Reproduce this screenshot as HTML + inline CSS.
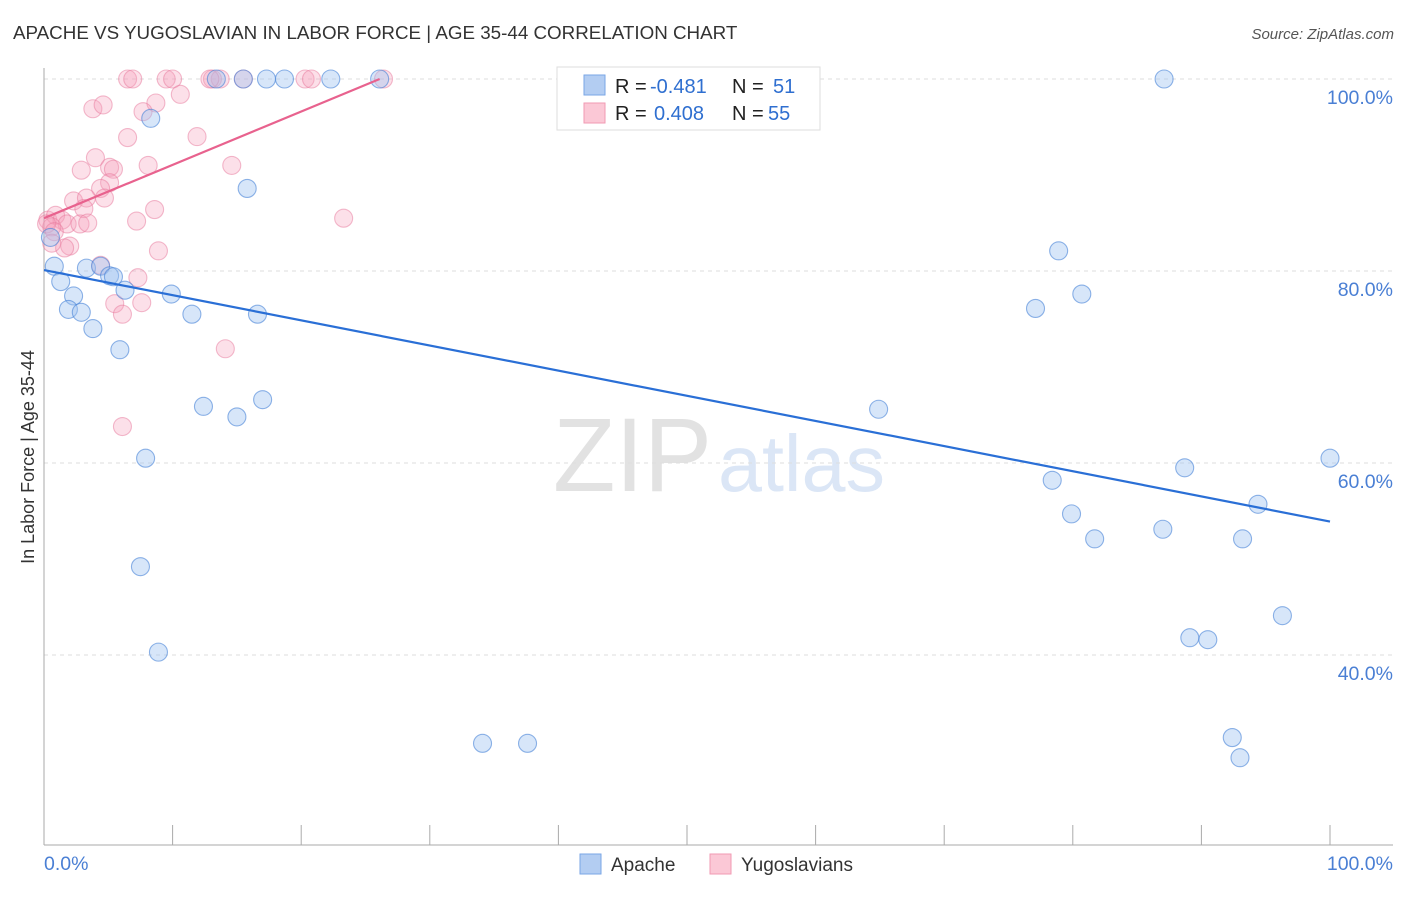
<!DOCTYPE html>
<html><head><meta charset="utf-8"><style>
body{margin:0;background:#fff;font-family:"Liberation Sans",sans-serif;}
svg text{font-family:"Liberation Sans",sans-serif;}
</style></head><body>
<svg id="chart" width="1406" height="892" xmlns="http://www.w3.org/2000/svg">
<text x="13" y="39" font-size="18.8" fill="#333">APACHE VS YUGOSLAVIAN IN LABOR FORCE | AGE 35-44 CORRELATION CHART</text>
<text x="1394" y="39" font-size="15" fill="#555" text-anchor="end" font-style="italic">Source: ZipAtlas.com</text>
<text transform="translate(34,457) rotate(-90)" font-size="18" fill="#333" text-anchor="middle">In Labor Force | Age 35-44</text>
<g>
<text x="553" y="491" font-size="105" fill="#e2e2e2" font-family="Liberation Serif" textLength="159" lengthAdjust="spacingAndGlyphs">ZIP</text>
<text x="718" y="491" font-size="80" fill="#dbe6f6" textLength="167" lengthAdjust="spacingAndGlyphs">atlas</text>
</g>
<g id="grid"></g>
<g id="axes"></g>
<g id="pts"></g>
<g id="lines"></g>
<g>
<rect x="557" y="67" width="263" height="63" fill="#fff" stroke="#ddd"/>
<rect x="584" y="75" width="21" height="20" fill="#b3cdf2" stroke="#7aa6e6"/>
<text x="615" y="93" font-size="20" fill="#222">R = </text><text x="650" y="93" font-size="20" fill="#2f6fd0">-0.481</text>
<text x="732" y="93" font-size="20" fill="#222">N = </text><text x="773" y="93" font-size="20" fill="#2f6fd0">51</text>
<rect x="584" y="103" width="21" height="20" fill="#fbc8d6" stroke="#f09ab3"/>
<text x="615" y="120" font-size="20" fill="#222">R = </text><text x="654" y="120" font-size="20" fill="#2f6fd0">0.408</text>
<text x="732" y="120" font-size="20" fill="#222">N = </text><text x="768" y="120" font-size="20" fill="#2f6fd0">55</text>
</g>
<g>
<rect x="580" y="854" width="21" height="20" fill="#b3cdf2" stroke="#7aa6e6"/>
<text x="611" y="871" font-size="19" fill="#333">Apache</text>
<rect x="710" y="854" width="21" height="20" fill="#fbc8d6" stroke="#f09ab3"/>
<text x="741" y="871" font-size="19" fill="#333">Yugoslavians</text>
</g>
</svg>
<script>
const yTicks=[100,80,60,40];
const yTickLabels=["100.0%","80.0%","60.0%","40.0%"];
const xTickLabels=["0.0%","100.0%"];
const apacheX=[43.2,87.1,13.4,15.5,17.3,18.7,22.3,26.1,8.3,15.8,78.9,0.8,1.3,3.3,4.4,5.1,5.4,6.3,2.3,1.9,2.9,9.9,11.5,16.6,3.8,5.9,77.1,80.7,64.9,12.4,15.0,17.0,7.9,100,88.7,78.4,94.4,79.9,81.7,87.0,93.2,7.5,8.9,96.3,89.1,90.5,34.1,37.6,92.4,93.0,0.5];
const apacheY=[99.9,100,100,100,100,100,100,100,95.9,88.6,82.1,80.5,78.9,80.3,80.5,79.5,79.4,78.0,77.4,76.0,75.7,77.6,75.5,75.5,74.0,71.8,76.1,77.6,65.6,65.9,64.8,66.6,60.5,60.5,59.5,58.2,55.7,54.7,52.1,53.1,52.1,49.2,40.3,44.1,41.8,41.6,30.8,30.8,31.4,29.3,83.5];
const yugoX=[6.5,6.9,9.5,10.0,13.1,13.7,12.9,15.5,20.3,20.8,26.4,10.6,3.8,4.6,8.7,7.7,6.5,11.9,4.0,8.1,14.6,2.9,5.1,5.4,5.1,4.4,4.7,2.3,3.3,3.1,8.6,0.3,0.9,1.4,1.8,2.8,3.4,7.2,23.3,2.0,1.6,0.6,0.2,0.8,4.4,8.9,7.3,5.5,7.6,6.1,14.1,6.1,0.6];
const yugoY=[100,100,100,100,100,100,100,100,100,100,100,98.4,96.9,97.3,97.5,96.6,93.9,94.0,91.8,91.0,91.0,90.5,90.8,90.6,89.2,88.6,87.6,87.3,87.6,86.5,86.4,85.3,85.8,85.3,84.9,84.9,85.0,85.2,85.5,82.6,82.4,84.6,84.9,84.1,80.6,82.1,79.3,76.6,76.7,75.5,71.9,63.8,82.9];
const apacheFit=[80.1,53.9];
const yugoFit=[85.5,100,26.1];
const X=v=>44+v*12.86, Y=v=>79+(100-v)*9.6;
const NS="http://www.w3.org/2000/svg";
function mk(tag,attrs,parent){const e=document.createElementNS(NS,tag);for(const k in attrs)e.setAttribute(k,attrs[k]);document.getElementById(parent).appendChild(e);return e;}
yTicks.forEach((t,i)=>{
 const g=mk('line',{x1:44,x2:1393,y1:Y(t),y2:Y(t),stroke:'#ddd','stroke-dasharray':'4,4'},'grid');
 
 
 const tx=mk('text',{x:1393,y:Y(t)+25,'font-size':19.5,fill:'#4a7fd4','text-anchor':'end'},'axes');
 tx.textContent=yTickLabels[i];
 
 
});
let a=mk('line',{x1:44,x2:44,y1:68,y2:845,stroke:'#aaa'},'axes');


a=mk('line',{x1:44,x2:1393,y1:845,y2:845,stroke:'#aaa'},'axes');


for(let i=0;i<=10;i++){const t=mk('line',{x1:X(i*10),x2:X(i*10),y1:825,y2:845,stroke:'#aaa'},'axes');
 
 }
let xl=mk('text',{x:44,y:870,'font-size':19.5,fill:'#4a7fd4'},'axes');xl.textContent=xTickLabels[0];


xl=mk('text',{x:1393,y:870,'font-size':19.5,fill:'#4a7fd4','text-anchor':'end'},'axes');xl.textContent=xTickLabels[1];


yugoX.forEach((x,i)=>{const c=mk('circle',{cx:X(x),cy:Y(yugoY[i]),r:9,fill:'rgba(246,160,186,0.32)',stroke:'rgba(232,120,155,0.5)','stroke-width':1.1},'pts');
 
 });
apacheX.forEach((x,i)=>{const c=mk('circle',{cx:X(x),cy:Y(apacheY[i]),r:9,fill:'rgba(160,195,240,0.42)',stroke:'rgba(70,130,215,0.6)','stroke-width':1.1},'pts');
 
 });
let l=mk('line',{x1:X(0),y1:Y(apacheFit[0]),x2:X(100),y2:Y(apacheFit[1]),stroke:'#2a6fd6','stroke-width':2.2},'lines');


l=mk('line',{x1:X(0),y1:Y(yugoFit[0]),x2:X(yugoFit[2]),y2:Y(yugoFit[1]),stroke:'#e8628e','stroke-width':2.2},'lines');


</script>
</body></html>
